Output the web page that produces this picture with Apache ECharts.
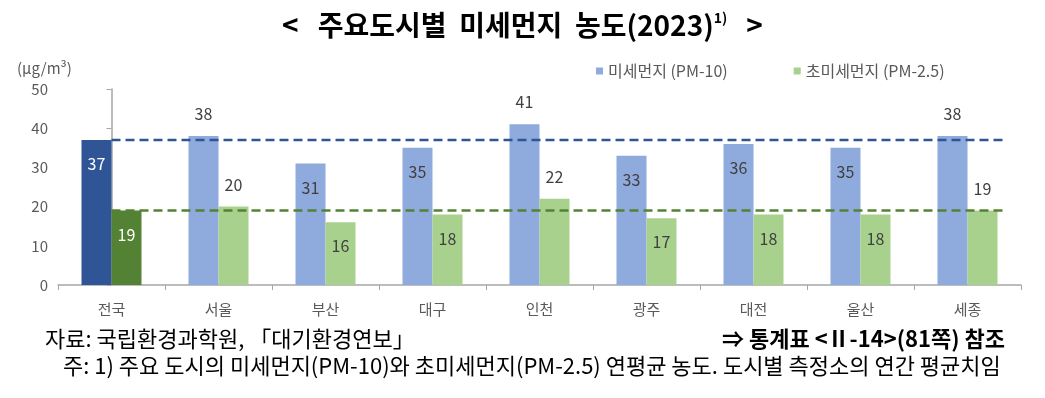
<!DOCTYPE html>
<html>
<head>
<meta charset="utf-8">
<script src="https://cdn.jsdelivr.net/npm/echarts@6/dist/echarts.min.js"></script>
<style>
  html, body { margin: 0; padding: 0; background: #fff; }
  #chart { width: 1045px; height: 398px; }
</style>
</head>
<body>
<div id="chart"></div>
<script>
// 데이터
const cities = ['전국', '서울', '부산', '대구', '인천', '광주', '대전', '울산', '세종'];
const pm10 = [37, 38, 31, 35, 41, 33, 36, 35, 38];
const pm25 = [19, 20, 16, 18, 22, 17, 18, 18, 19];
const yTicks = [0, 10, 20, 30, 40, 50];
const seriesNames = ['미세먼지 (PM-10)', '초미세먼지 (PM-2.5)'];

const lightColors = ['#8FAADC', '#A9D18E'];
const darkColors = ['#2F5597', '#548235'];
const textGray = '#595959';
const font = '"Noto Sans CJK KR", "Noto Sans", sans-serif';

// 전국 평균선의 가로 범위 (숨은 value 축 기준)
const refLineSpan = [0, 8.35];

const chart = echarts.init(document.getElementById('chart'));

// 전국 값 이상이면 막대 위, 아니면 막대 안쪽에 라벨
function buildData(values, darkColor) {
  const avg = values[0];
  return values.map((v, i) => {
    if (i === 0) {
      return { value: v, itemStyle: { color: darkColor }, label: { position: 'insideTop', distance: 16, color: '#fff' } };
    }
    if (v >= avg) return { value: v, label: { position: 'top', distance: 14 } };
    return { value: v, label: { position: 'insideTop', distance: 16 } };
  });
}

function barSeries(idx, values) {
  return {
    name: seriesNames[idx],
    type: 'bar',
    data: buildData(values, darkColors[idx]),
    barWidth: 30,
    barGap: '0%',
    itemStyle: { color: lightColors[idx] },
    label: { show: true, fontSize: 16, color: '#404040', fontFamily: font },
    z: 2
  };
}

function refLine(idx, value) {
  return {
    type: 'line',
    xAxisIndex: 1,
    data: [[refLineSpan[0], value], [refLineSpan[1], value]],
    showSymbol: false,
    silent: true,
    lineStyle: { color: darkColors[idx], width: 2.5, type: [9, 5] },
    z: 3
  };
}

const option = {
  backgroundColor: '#fff',
  animation: false,
  title: {
    text: '{a|<   주요도시별  미세먼지  농도(2023)}{s|1)}{a|   >}',
    left: 'center',
    top: 6,
    textStyle: {
      rich: {
        a: { fontSize: 28, fontWeight: 'bold', color: '#000', fontFamily: font },
        s: { fontSize: 14, fontWeight: 'bold', color: '#000', fontFamily: font, padding: [0, 0, 14, 0] }
      }
    }
  },
  legend: {
    data: seriesNames,
    top: 58,
    left: 591,
    icon: 'rect',
    itemWidth: 7,
    itemHeight: 7,
    itemGap: 66,
    textStyle: { fontSize: 16, color: textGray, fontFamily: font }
  },
  grid: { left: 58, right: 24, top: 89, bottom: 113 },
  xAxis: [
    {
      type: 'category',
      data: cities,
      axisLine: { lineStyle: { color: '#A6A6A6', width: 1.5 } },
      axisTick: { show: true, length: 5, lineStyle: { color: '#A6A6A6' } },
      axisLabel: { fontSize: 15, color: textGray, margin: 17, fontFamily: font }
    },
    { type: 'value', min: -0.5, max: cities.length - 0.5, show: false }
  ],
  yAxis: {
    type: 'value',
    min: yTicks[0],
    max: yTicks[yTicks.length - 1],
    interval: yTicks[1] - yTicks[0],
    axisLine: { show: true, lineStyle: { color: '#A6A6A6', width: 1.5 } },
    axisTick: { show: true, length: 5, lineStyle: { color: '#A6A6A6' } },
    axisLabel: { fontSize: 15, color: textGray, margin: 10, fontFamily: font },
    splitLine: { show: false }
  },
  graphic: [
    {
      type: 'text', left: 17, top: 61,
      style: { text: '(μg/m³)', font: '15px ' + font, fill: textGray }
    },
    {
      type: 'text', left: 45, top: 328,
      style: { text: '자료: 국립환경과학원, 「대기환경연보」', font: '22px ' + font, fill: '#000' }
    },
    {
      type: 'text', right: 40, top: 328,
      style: { text: '⇒ 통계표 <Ⅱ-14>(81쪽) 참조', font: 'bold 22px ' + font, fill: '#000' }
    },
    {
      type: 'text', left: 63, top: 355,
      style: { text: '주: 1) 주요 도시의 미세먼지(PM-10)와 초미세먼지(PM-2.5) 연평균 농도. 도시별 측정소의 연간 평균치임', font: '22px ' + font, fill: '#000' }
    }
  ],
  series: [
    barSeries(0, pm10),
    barSeries(1, pm25),
    refLine(0, pm10[0]),
    refLine(1, pm25[0])
  ]
};

chart.setOption(option);
</script>
</body>
</html>
